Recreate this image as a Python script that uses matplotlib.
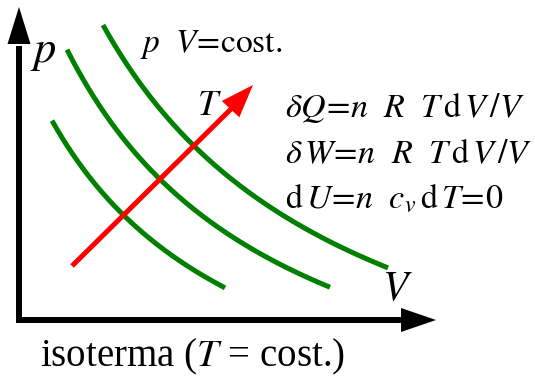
import matplotlib
matplotlib.use('Agg')
import matplotlib.pyplot as plt
import numpy as np

plt.rcParams['font.family'] = ['Liberation Serif', 'DejaVu Serif']
plt.rcParams['mathtext.fontset'] = 'stix'

# Isotherms p*V = const (diagram units, axis origin offset)
isotherm_pv = [74900, 96000, 118000]
v_start = [205, 220, 256]
v_end = [378, 483, 541]

GREEN = '#008000'
RED = '#ff0000'

fig = plt.figure(figsize=(5.35, 3.78), dpi=100)
ax = fig.add_axes([0, 0, 1, 1])
ax.set_xlim(153, 688)
ax.set_ylim(108, 486)
ax.axis('off')

for c, v0, v1 in zip(isotherm_pv, v_start, v_end):
    v = np.linspace(v0, v1, 200)
    ax.plot(v, c / v, color=GREEN, lw=3.6, solid_capstyle='butt')

# p and V axes
ax.plot([172, 172], [166, 440], color='k', lw=4.3, solid_capstyle='butt')
ax.arrow(172, 440, 0, 39, width=0, head_width=23, head_length=37,
         length_includes_head=True, color='k', lw=0)
ax.plot([169, 556], [166, 166], color='k', lw=4.3, solid_capstyle='butt')
ax.arrow(554, 166, 35, 0, width=0, head_width=24, head_length=35,
         length_includes_head=True, color='k', lw=0)

# temperature direction
ax.plot([225, 384], [220, 377], color=RED, lw=3.6, solid_capstyle='butt')
ax.arrow(380, 373, 26, 28, width=0, head_width=24, head_length=33,
         length_includes_head=True, color=RED, lw=0)

ax.text(183, 424, r'$p$', fontsize=32, ha='left', va='baseline')
ax.text(293, 434, r'$p\ \ V\!=\!\mathrm{cost.}$', fontsize=24, ha='left', va='baseline')
ax.text(350, 371, r'$T$', fontsize=26, ha='left', va='baseline')
ax.text(535, 186, r'$V$', fontsize=30, ha='left', va='baseline')

eq_lines = [r'$\delta Q\!=\!n\ \ R\ \ T\,\mathrm{d}\,V\,/V$',
            r'$\delta\, W\!=\!n\ \ R\ \ T\,\mathrm{d}\,V\,/V$',
            r'$\mathrm{d}\,U\!=\!n\ \ c_v\,\mathrm{d}\,T\!=\!0$']
eq_baselines = [369, 323, 278]
for line, yb in zip(eq_lines, eq_baselines):
    ax.text(438, yb, line, fontsize=24.5, ha='left', va='baseline')

ax.text(193, 120, r'isoterma ($T$ = cost.)', fontsize=28, ha='left', va='baseline')

fig.savefig('out.png', dpi=100)
